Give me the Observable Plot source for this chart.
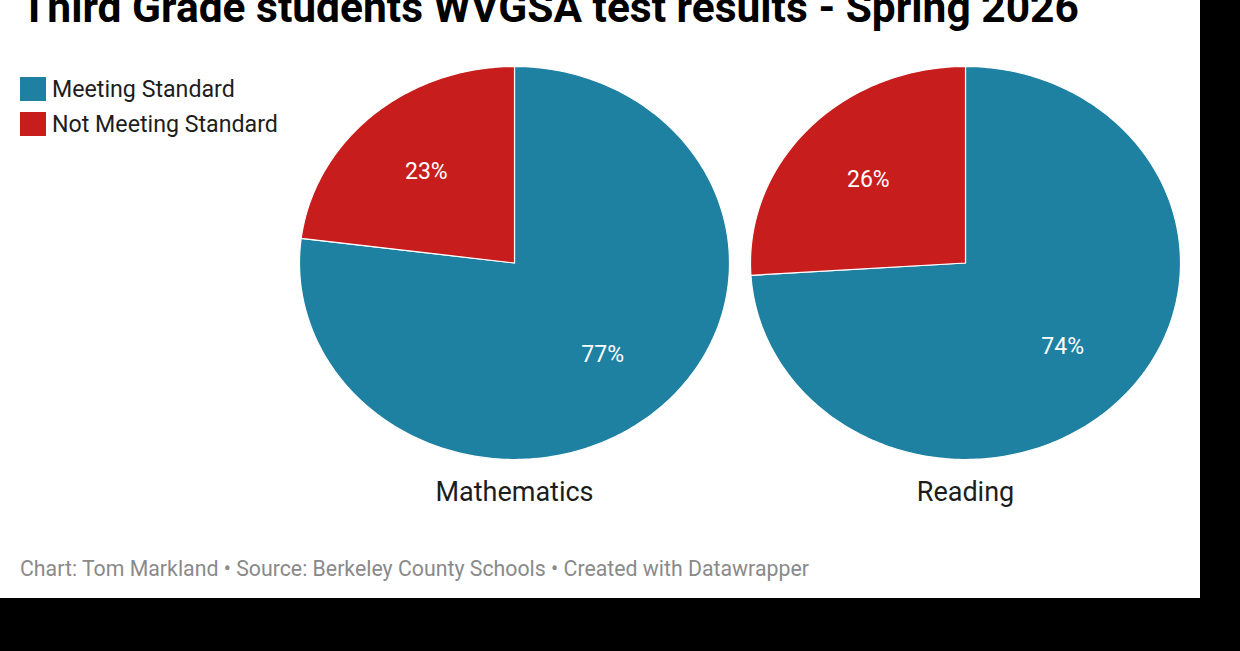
<!DOCTYPE html>
<html>
<head>
<meta charset="utf-8">
<script src="https://cdn.jsdelivr.net/npm/d3@7"></script>
<script src="https://cdn.jsdelivr.net/npm/@observablehq/plot@0.6"></script>
<style>
  html, body { margin: 0; padding: 0; background: #000; }
  #wrap { position: relative; width: 1200px; height: 598px; background: #fff; overflow: hidden; font-family: Roboto, sans-serif; }
  #title { position: absolute; left: 21px; top: -13px; font-size: 42.5px; line-height: 42px; font-weight: 700; color: #000; white-space: nowrap; }
  #legend { position: absolute; left: 20px; top: 77px; z-index: 2; }
  .item { display: flex; align-items: center; height: 24px; margin-bottom: 11px; font-size: 23.2px; color: #1d1d1d; }
  .sw { width: 26px; height: 24px; margin-right: 6px; }
  #chart { position: absolute; left: 0; top: 40px; }
  #caption { position: absolute; left: 20px; top: 557px; font-size: 21.3px; line-height: 24px; color: #8a8a8a; white-space: nowrap; }
</style>
</head>
<body>
<div id="wrap">
  <div id="title"></div>
  <div id="legend"></div>
  <div id="chart"></div>
  <div id="caption"></div>
</div>
<script>
const titleText = "Third Grade students WVGSA test results - Spring 2026";
const captionText = "Chart: Tom Markland • Source: Berkeley County Schools • Created with Datawrapper";
const subjects = ["Mathematics", "Reading"];
const categories = ["Meeting Standard", "Not Meeting Standard"];
const meeting = [77, 74];
const notMeeting = [23, 26];
const colors = ["#1e81a2", "#c71e1d"];

document.getElementById("title").textContent = titleText;
document.getElementById("caption").textContent = captionText;
const legend = document.getElementById("legend");
categories.forEach((c, i) => {
  const it = document.createElement("div");
  it.className = "item";
  const sw = document.createElement("span");
  sw.className = "sw";
  sw.style.background = colors[i];
  const tx = document.createElement("span");
  tx.textContent = c;
  it.appendChild(sw); it.appendChild(tx);
  legend.appendChild(it);
});

// Build wedge outlines (unit circle, angle clockwise from top) and label anchors from the data
const wedgePts = [];
const labels = [];
subjects.forEach((s, i) => {
  const vals = [meeting[i], notMeeting[i]];
  let start = 0;
  vals.forEach((v, j) => {
    const a0 = start / 100 * 2 * Math.PI;
    const a1 = (start + v) / 100 * 2 * Math.PI;
    const key = s + "|" + j;
    wedgePts.push({subject: s, category: categories[j], key, x: 0, y: 0});
    const n = Math.ceil(v * 3.6) + 1;
    for (let k = 0; k <= n; k++) {
      const a = a0 + (a1 - a0) * k / n;
      wedgePts.push({subject: s, category: categories[j], key, x: Math.sin(a), y: Math.cos(a)});
    }
    const am = (a0 + a1) / 2;
    labels.push({subject: s, text: v + "%", x: 0.62 * Math.sin(am), y: 0.62 * Math.cos(am)});
    start += v;
  });
});

const plot = Plot.plot({
  width: 1200,
  height: 475,
  marginTop: 26,
  marginBottom: 56,
  marginLeft: 299,
  marginRight: 20,
  style: {fontFamily: "Roboto, sans-serif", background: "transparent"},
  x: {domain: [-1, 1], axis: null},
  y: {domain: [-1, 1], axis: null},
  fx: {domain: subjects, paddingInner: 0.0466, paddingOuter: 0, axis: null},
  color: {domain: categories, range: colors},
  marks: [
    Plot.line(wedgePts, {x: "x", y: "y", z: "key", fx: "subject", fill: "category", stroke: "white", strokeWidth: 1.2, curve: "linear-closed"}),
    Plot.text(labels, {x: "x", y: "y", fx: "subject", text: "text", fill: "white", fontSize: 23}),
    Plot.text(subjects, {fx: d => d, text: d => d, frameAnchor: "bottom", dy: 41, fontSize: 27, fill: "#1d1d1d"})
  ]
});
document.getElementById("chart").appendChild(plot);
</script>
</body>
</html>
